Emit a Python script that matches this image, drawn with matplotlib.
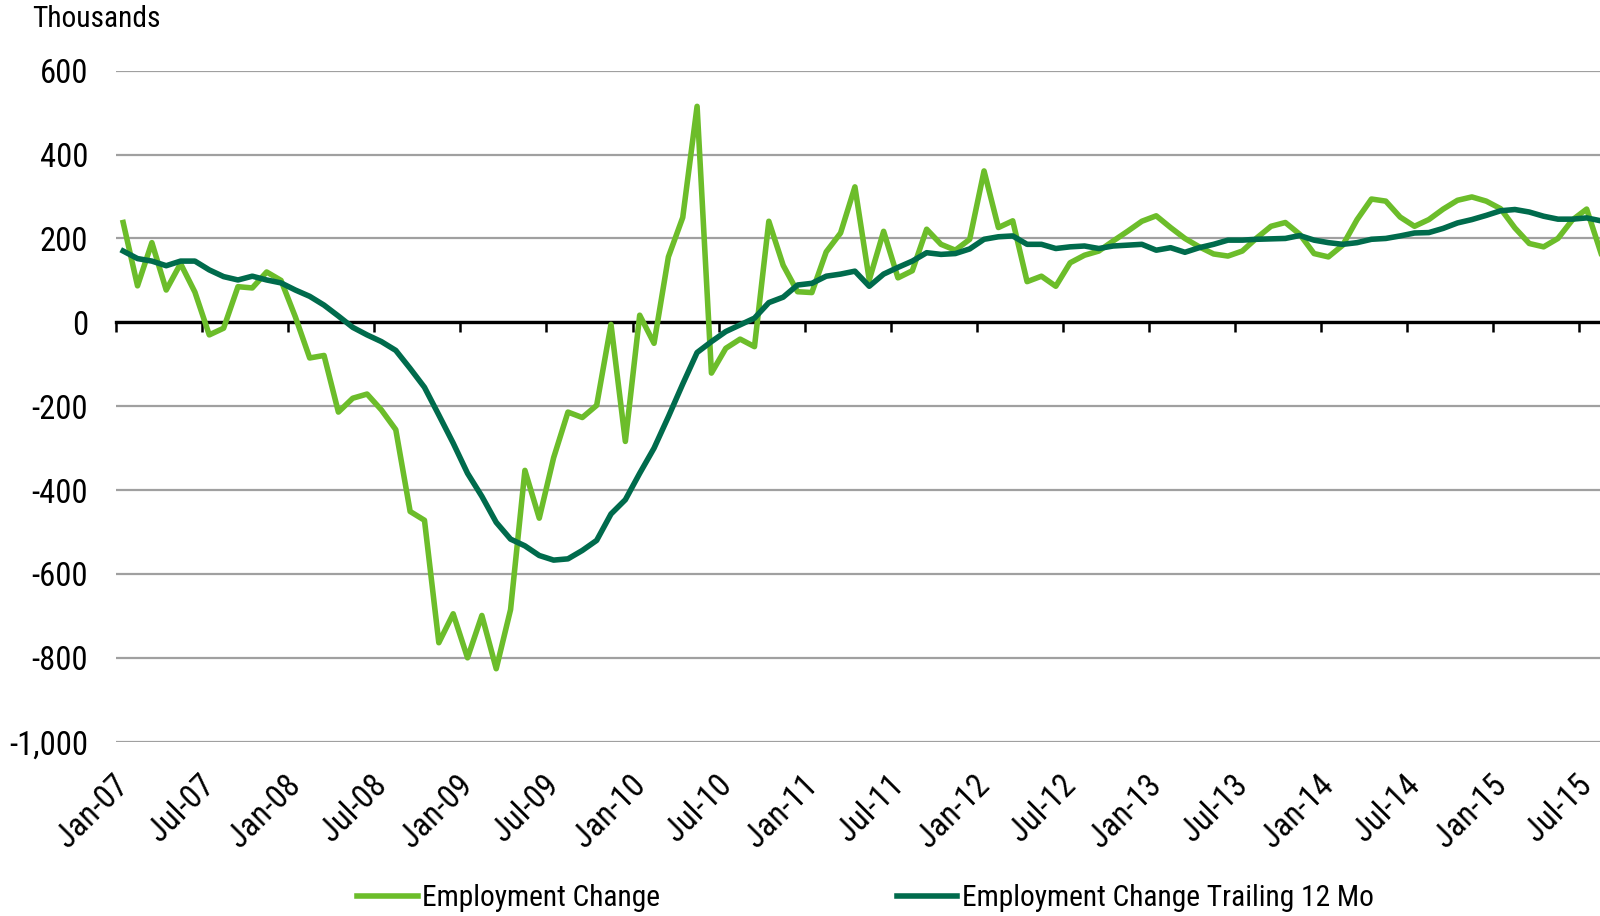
import numpy as np
import pandas as pd
import matplotlib
matplotlib.use('Agg')
import matplotlib.pyplot as plt
from matplotlib import font_manager
from matplotlib.ticker import StrMethodFormatter
from matplotlib.transforms import ScaledTranslation

# a narrow face like the original if there is one, else plain Liberation Sans
names = {f.name for f in font_manager.fontManager.ttflist}
narrow = [n for n in ['Liberation Sans Narrow', 'Arial Narrow', 'DejaVu Sans Condensed',
                      'Roboto Condensed'] if n in names]
plt.rcParams['font.family'] = narrow[:1] + ['Liberation Sans', 'DejaVu Sans']
plt.rcParams['axes.unicode_minus'] = False
k = 1.12 if narrow else 1.0   # narrow fonts can be set a bit larger

# Monthly data, Jan-07 .. Aug-15 (thousands)
months = pd.date_range('2007-01-01', periods=104, freq='MS').strftime('%b-%y').tolist()

emp_change = [
    238, 87, 190, 77, 140, 72, -30, -14, 85, 82, 120, 100,
    13, -85, -79, -214, -181, -171, -209, -256, -451, -472, -764, -695,
    -800, -699, -826, -685, -353, -467, -323, -214, -227, -198, -5, -284,
    17, -50, 156, 250, 515, -121, -62, -40, -58, 241, 136, 73,
    71, 168, 213, 323, 101, 217, 106, 123, 222, 186, 172, 198,
    361, 226, 242, 97, 110, 86, 142, 160, 170, 194, 217, 241,
    254, 226, 200, 180, 163, 158, 170, 201, 229, 238, 210, 164,
    156, 184, 245, 294, 289, 251, 229, 245, 270, 291, 299, 289,
    271, 225, 188, 180, 200, 244, 270, 165,
]

emp_trailing = [
    170, 152, 146, 135, 146, 146, 125, 109, 101, 110, 101, 94,
    77, 62, 41, 15, -12, -30, -46, -67, -110, -155, -221, -288,
    -360, -415, -477, -517, -533, -556, -567, -564, -544, -520, -457, -423,
    -360, -300, -225, -147, -72, -46, -22, -6, 10, 47, 60, 89,
    93, 110, 115, 122, 86, 115, 131, 146, 166, 162, 164, 175,
    198, 204, 206, 186, 186, 176, 180, 182, 176, 182, 184, 186,
    172, 178, 167, 178, 186, 196, 196, 198, 199, 200, 207, 196,
    190, 186, 190, 198, 200, 206, 213, 214, 224, 237, 245, 255,
    266, 269, 263, 253, 246, 246, 249, 242,
]

LIGHT = '#6cbd2a'
DARK = '#006b4c'

x = np.arange(len(months))

fig = plt.figure(figsize=(16, 9.16), dpi=100)
ax = fig.add_axes([116 / 1600, 1 - 741.7 / 916, 1 - 116 / 1600, (741.7 - 70.7) / 916])

ax.plot(x, emp_change, color=LIGHT, lw=4.0, label='Employment Change', zorder=3)
ax.plot(x, emp_trailing, color=DARK, lw=4.0, label='Employment Change Trailing 12 Mo',
        zorder=4)

ax.set_xlim(-0.5, 102.93)
ax.set_ylim(-1000, 600)

# y axis
ax.set_yticks(np.arange(-1000, 601, 200))
ax.yaxis.set_major_formatter(StrMethodFormatter('{x:,.0f}'))
ax.tick_params(axis='y', length=0, pad=20, labelsize=21 * k)
ax.grid(axis='y', color='#a0a0a0', lw=1.6)
ax.set_axisbelow(True)

for s in ['left', 'right', 'top']:
    ax.spines[s].set_visible(False)

# zero axis with tick marks between categories
ax.spines['bottom'].set_position(('data', 0))
ax.spines['bottom'].set_linewidth(2.4)
ax.spines['bottom'].set_zorder(2.8)
ax.set_xticks(np.arange(-0.5, len(months), 6))
ax.tick_params(axis='x', direction='out', length=7, width=1.8, labelbottom=False)

# date labels at the bottom
sec = ax.secondary_xaxis('bottom')
sec.set_xticks(x[::6])
sec.set_xticklabels(months[::6], rotation=45, ha='right', va='bottom',
                    rotation_mode='anchor', fontsize=21 * k)
sec.tick_params(axis='x', length=0, pad=36)
sec.spines['bottom'].set_visible(False)
shift = ScaledTranslation(12 / 100, 0, fig.dpi_scale_trans)
for lbl in sec.get_xticklabels():
    lbl.set_transform(lbl.get_transform() + shift)

fig.text(32 / 1600, 1 - 19 / 916, 'Thousands', fontsize=19 * k, va='center', ha='left')

fig.legend(loc='center', bbox_to_anchor=(0.541, 1 - 898 / 916), ncol=2,
           frameon=False, fontsize=19 * k, handlelength=2.05, handletextpad=0.15,
           columnspacing=8.0)

fig.savefig('out.png', dpi=100)
